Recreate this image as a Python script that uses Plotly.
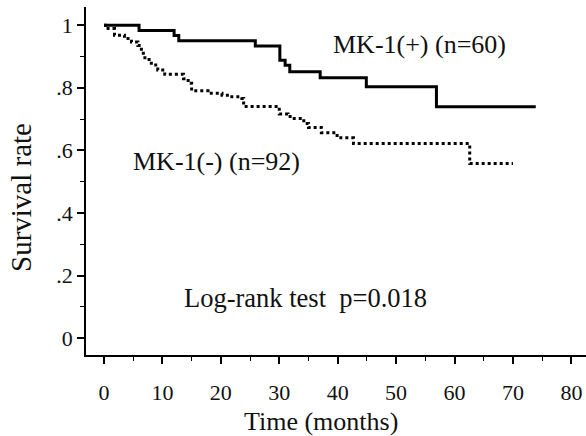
import plotly.graph_objects as go

# MK-1(+) solid curve (step times in months, survival)
pos_time = [0, 6.0, 12.0, 12.8, 25.9, 30.1, 31.0, 31.8, 37.0, 44.9, 56.9, 73.9]
pos_surv = [1.0, 0.983, 0.967, 0.950, 0.933, 0.888, 0.872, 0.851, 0.832, 0.803, 0.739, 0.739]

# MK-1(-) dotted curve
neg_time = [0, 0.7, 1.8, 3.5, 4.7, 5.8, 6.4, 7.0, 8.1, 9.2, 10.4, 13.6, 14.4, 15.0, 17.8,
            20.2, 21.6, 23.6, 23.9, 30.0, 31.5, 32.3, 34.2, 35.0, 37.2, 39.9, 42.7, 62.6, 70.0]
neg_surv = [1.0, 0.989, 0.968, 0.957, 0.946, 0.935, 0.910, 0.890, 0.873, 0.857, 0.843, 0.829,
            0.814, 0.790, 0.782, 0.776, 0.771, 0.766, 0.740, 0.716, 0.708, 0.702, 0.686, 0.673,
            0.656, 0.640, 0.622, 0.558, 0.558]

x_ticks = [0, 10, 20, 30, 40, 50, 60, 70, 80]
y_ticks = [0, 0.2, 0.4, 0.6, 0.8, 1.0]
y_tick_labels = ["0", ".2", ".4", ".6", ".8", "1"]

FONT = "Liberation Serif, Times New Roman, DejaVu Serif, serif"
TXT = "#111"

fig = go.Figure()
fig.add_trace(go.Scatter(x=pos_time, y=pos_surv, mode="lines", line_shape="hv",
                         line=dict(color="black", width=3), showlegend=False))
fig.add_trace(go.Scatter(x=neg_time, y=neg_surv, mode="lines", line_shape="hv",
                         line=dict(color="black", width=3, dash="3px,3px"), showlegend=False))

fig.add_annotation(x=38.9, y=0.939, text="MK-1(+) (n=60)", showarrow=False,
                   xanchor="left", yanchor="middle", font=dict(family=FONT, size=26, color=TXT))
fig.add_annotation(x=4.7, y=0.563, text="MK-1(-) (n=92)", showarrow=False,
                   xanchor="left", yanchor="middle", font=dict(family=FONT, size=26, color=TXT))
fig.add_annotation(x=13.3, y=0.127, text="Log-rank test \u00a0p=0.018", showarrow=False,
                   xanchor="left", yanchor="middle", font=dict(family=FONT, size=26.5, color=TXT))

# axis titles placed as paper-pixel annotations to match the reference offsets
fig.add_annotation(xref="paper", yref="paper", x=(320.5 - 86) / 500, y=(355 - 421) / 348,
                   text="Time (months)", showarrow=False, xanchor="center", yanchor="middle",
                   font=dict(family=FONT, size=26, color=TXT))
fig.add_annotation(xref="paper", yref="paper", x=(21 - 86) / 500, y=(355 - 198) / 348,
                   text="Survival rate", showarrow=False, textangle=-90, xanchor="center",
                   yanchor="middle", font=dict(family=FONT, size=29, color=TXT))

fig.update_layout(
    width=586, height=436,
    margin=dict(l=86, r=0, t=7, b=81),
    plot_bgcolor="white", paper_bgcolor="white",
    font=dict(family=FONT, color=TXT),
    xaxis=dict(range=[-3.08, 82.5], tickvals=x_ticks, showline=True, linecolor="black",
               linewidth=1.5, ticks="outside", ticklen=7, tickwidth=1.5, tickcolor="black",
               showgrid=False, zeroline=False, tickfont=dict(size=22, family=FONT, color=TXT),
               automargin=False, ticklabelstandoff=10,
               minor=dict(dtick=5, tick0=0, ticks="outside", ticklen=4, tickcolor="black", tickwidth=1.2)),
    yaxis=dict(range=[-0.054, 1.058], tickvals=y_ticks, ticktext=y_tick_labels, showline=True,
               linecolor="black", linewidth=1.5, ticks="outside", ticklen=7, tickwidth=1.5,
               tickcolor="black", showgrid=False, zeroline=False,
               tickfont=dict(size=22, family=FONT, color=TXT), automargin=False,
               minor=dict(dtick=0.1, tick0=0, ticks="outside", ticklen=4, tickcolor="black", tickwidth=1.2)),
)

fig.write_html("out.html", config={"displayModeBar": False},
               post_script="document.body.style.margin='0';document.body.style.padding='0';")
